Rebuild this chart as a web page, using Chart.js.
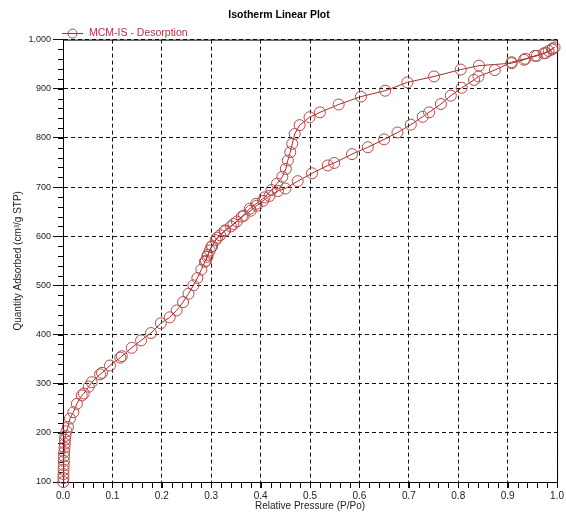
<!DOCTYPE html>
<html>
<head>
<meta charset="utf-8">
<script src="https://cdn.jsdelivr.net/npm/chart.js@4"></script>
<style>
  html, body { margin: 0; padding: 0; background: #fff; }
</style>
</head>
<body>
<canvas id="chart" width="566" height="512"></canvas>
<script>
// adsorption branch (low -> high P/Po)
const pAds = [0.0005, 0.0008, 0.001, 0.0012, 0.0015, 0.0018, 0.002, 0.0025, 0.003, 0.0035, 0.004, 0.005, 0.007,
  0.010, 0.014, 0.021, 0.028, 0.038, 0.042, 0.052, 0.058, 0.075, 0.079, 0.095, 0.116, 0.119, 0.139, 0.158,
  0.178, 0.198, 0.216, 0.230, 0.243, 0.254, 0.264, 0.272, 0.280, 0.287, 0.292, 0.297, 0.302, 0.309, 0.318,
  0.327, 0.340, 0.352, 0.366, 0.380, 0.392, 0.405, 0.418, 0.435, 0.450, 0.475, 0.504, 0.536, 0.549, 0.585,
  0.617, 0.650, 0.677, 0.704, 0.728, 0.741, 0.765, 0.785, 0.807, 0.832, 0.841, 0.874, 0.908, 0.936, 0.959,
  0.977, 0.990];
const qAds = [100, 108, 116, 125, 134, 143, 152, 161, 170, 178, 186, 194, 203,
  212, 229, 242, 259, 276, 280, 294, 303, 319, 322, 337, 353, 356, 373, 388,
  403, 423, 435, 449, 466, 483, 500, 515, 532, 548, 558, 571, 580, 592, 602,
  610, 620, 630, 642, 652, 662, 672, 682, 692, 697, 712, 728, 744, 749, 767,
  781, 797, 811, 827, 843, 852, 869, 886, 902, 918, 925, 938, 954, 961, 967,
  973, 980];

// desorption branch (high -> low P/Po)
const pDes = [0.995, 0.991, 0.983, 0.973, 0.955, 0.933, 0.908, 0.842, 0.805, 0.751, 0.697, 0.652, 0.603,
  0.558, 0.520, 0.499, 0.479, 0.469, 0.464, 0.460, 0.455, 0.451, 0.444, 0.433, 0.422, 0.408, 0.391, 0.378,
  0.362, 0.345, 0.328, 0.312, 0.300, 0.293, 0.289];
const qDes = [984, 982, 977, 972, 967, 959, 952, 947, 939, 925, 913, 896, 884,
  868, 852, 842, 826, 808, 788, 771, 754, 737, 721, 707, 694, 679, 666, 656,
  640, 625, 612, 597, 578, 562, 550];

const xTicks = [0, 0.1, 0.2, 0.3, 0.4, 0.5, 0.6, 0.7, 0.8, 0.9, 1.0];
const yTicks = [100, 200, 300, 400, 500, 600, 700, 800, 900, 1000];

const seriesName = "MCM-IS - Desorption";
const points = pAds.map((p, i) => ({ x: p, y: qAds[i] }))
  .concat(pDes.map((p, i) => ({ x: p, y: qDes[i] })));

const lineColor = "#a82c2c";
const markColor = "#b24a4a";
const fontFam = "'Liberation Sans', Arial, sans-serif";

// frame + minor ticks + legend
const framePlugin = {
  id: "frame",
  beforeDatasetsDraw(chart) {
    const { ctx, chartArea: a, scales } = chart;
    ctx.save();
    ctx.strokeStyle = "#000";
    ctx.lineWidth = 1;
    ctx.beginPath();
    ctx.moveTo(a.left, a.top + 0.5);
    ctx.lineTo(a.right + 0.5, a.top + 0.5);
    ctx.lineTo(a.right + 0.5, a.bottom);
    for (let v = 0.02; v < 1; v += 0.02) {
      const px = Math.round(scales.x.getPixelForValue(v)) + 0.5;
      ctx.moveTo(px, a.bottom);
      ctx.lineTo(px, a.bottom + 6);
    }
    for (let v = 120; v < 1000; v += 20) {
      const py = Math.round(scales.y.getPixelForValue(v)) + 0.5;
      ctx.moveTo(a.left - 5, py);
      ctx.lineTo(a.left, py);
    }
    ctx.stroke();
    ctx.restore();
  },
  afterDraw(chart) {
    const { ctx } = chart;
    ctx.save();
    ctx.strokeStyle = lineColor;
    ctx.lineWidth = 1;
    ctx.beginPath();
    ctx.moveTo(62, 33.5);
    ctx.lineTo(83, 33.5);
    ctx.stroke();
    ctx.strokeStyle = markColor;
    ctx.beginPath();
    ctx.arc(72.5, 33.5, 4.5, 0, Math.PI * 2);
    ctx.stroke();
    ctx.fillStyle = "#a8364a";
    ctx.font = "10.5px " + fontFam;
    ctx.textBaseline = "middle";
    ctx.fillText(seriesName, 89, 33);
    ctx.restore();
  }
};

new Chart(document.getElementById("chart"), {
  type: "scatter",
  data: {
    datasets: [{
      label: seriesName,
      data: points,
      showLine: true,
      borderColor: lineColor,
      borderWidth: 1,
      pointStyle: "circle",
      pointRadius: 5.5,
      pointBackgroundColor: "rgba(0,0,0,0)",
      pointBorderColor: markColor,
      pointBorderWidth: 1,
      clip: false
    }]
  },
  options: {
    responsive: false,
    animation: false,
    layout: { padding: { left: 0, right: 8, top: 0, bottom: 0 } },
    plugins: {
      legend: { display: false },
      tooltip: { enabled: false },
      title: {
        display: true,
        text: "Isotherm Linear Plot",
        color: "#000",
        font: { family: fontFam, size: 10.5, weight: "bold" },
        padding: { top: 9, bottom: 18 }
      }
    },
    scales: {
      x: {
        type: "linear",
        min: 0,
        max: 1,
        afterBuildTicks: s => { s.ticks = xTicks.map(v => ({ value: v })); },
        afterFit: s => { s.height = 30; },
        ticks: {
          callback: v => v.toFixed(1),
          color: "#222",
          font: { family: fontFam, size: 10 },
          padding: 2,
          maxRotation: 0
        },
        grid: { color: "#111", lineWidth: 1, tickLength: 6 },
        border: { display: true, color: "#000", width: 1, dash: [4, 3] },
        title: {
          display: true,
          text: "Relative Pressure (P/Po)",
          color: "#222",
          font: { family: fontFam, size: 10 },
          padding: 0
        }
      },
      y: {
        type: "linear",
        min: 100,
        max: 1000,
        afterBuildTicks: s => { s.ticks = yTicks.map(v => ({ value: v })); },
        afterFit: s => { s.width = 63; },
        ticks: {
          callback: v => v.toLocaleString("en-US"),
          color: "#222",
          font: { family: fontFam, size: 9 },
          padding: 2
        },
        grid: { color: "#111", lineWidth: 1, tickLength: 10 },
        border: { display: true, color: "#000", width: 1, dash: [4, 3] },
        title: {
          display: true,
          text: "Quantity Adsorbed (cm³/g STP)",
          color: "#222",
          font: { family: fontFam, size: 10 },
          padding: { top: 12, bottom: 0 }
        }
      }
    }
  },
  plugins: [framePlugin]
});
</script>
</body>
</html>
